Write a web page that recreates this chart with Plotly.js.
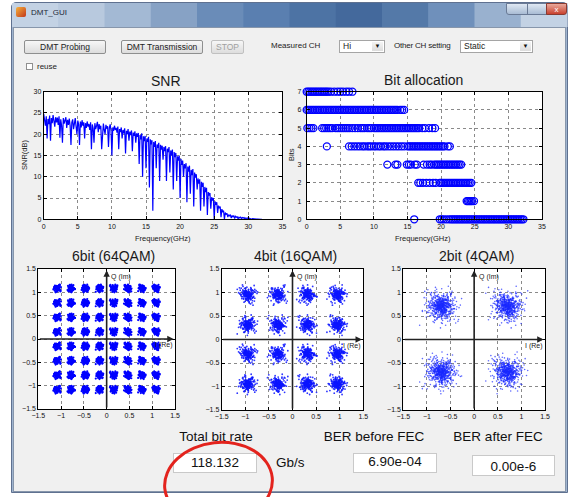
<!DOCTYPE html>
<html><head><meta charset="utf-8">
<script src="https://cdn.plot.ly/plotly-3.0.1.min.js"></script>
<style>
body{margin:0;width:574px;height:497px;overflow:hidden;background:#fff;font-family:"Liberation Sans",Arial,sans-serif;position:relative}
.abs{position:absolute;box-sizing:border-box}
.top{z-index:3}
.btn{border:1px solid #8e8f8f;border-radius:2px;background:linear-gradient(#f7f7f7,#dddddd);font-size:8.5px;color:#222;text-align:center;line-height:12px}
.lbl{font-size:8px;color:#222;white-space:nowrap}
.dd{background:#fff;border:1px solid #a5a5a5;font-size:8.5px;color:#222;line-height:11px;padding-left:3px}
.dd span{position:absolute;right:1px;top:1px;width:11px;height:9px;background:linear-gradient(#f4f4f4,#dcdcdc);font-size:6px;text-align:center;line-height:9px;color:#111}
.big{font-size:13.5px;color:#111;white-space:nowrap;text-align:center}
.box{background:#fff;border:1px solid #c9c9c9;font-size:13.5px;color:#111;text-align:center}
</style></head>
<body>
<div class="abs" style="left:11px;top:2px;width:557px;height:491px;border:1px solid #5f7190;border-radius:5px 5px 0 0;background:#9fb4cf"></div>
<div class="abs" style="left:13px;top:27px;width:553px;height:465px;background:#f0f0f0;border:1px solid #8796ab"></div>

<div class="abs btn" style="left:24px;top:40px;width:82px;height:14px">DMT Probing</div>
<div class="abs btn" style="left:121px;top:40px;width:82px;height:14px">DMT Transmission</div>
<div class="abs btn" style="left:211px;top:40px;width:33px;height:14px;color:#a0a0a0;border-color:#c0c0c0">STOP</div>
<div class="abs lbl" style="left:271px;top:41px">Measured CH</div>
<div class="abs dd" style="left:339px;top:40px;width:46px;height:13px">Hi<span>▼</span></div>
<div class="abs lbl" style="left:394px;top:41px;letter-spacing:-0.2px">Other CH setting</div>
<div class="abs dd" style="left:460px;top:40px;width:73px;height:13px">Static<span>▼</span></div>
<div class="abs" style="left:26px;top:63px;width:7px;height:7px;background:#fff;border:1px solid #8f8f8f"></div>
<div class="abs lbl" style="left:37px;top:62px;font-size:8px">reuse</div>

<div class="abs big" style="left:166px;top:429px;width:100px">Total bit rate</div>
<div class="abs box" style="left:173px;top:453px;width:84px;height:20px;line-height:18px">118.132</div>
<div class="abs big" style="left:276px;top:455px">Gb/s</div>
<div class="abs big" style="left:318px;top:429px;width:112px">BER before FEC</div>
<div class="abs box" style="left:353px;top:453px;width:84px;height:20px;line-height:16px">6.90e-04</div>
<div class="abs big" style="left:446px;top:429px;width:104px">BER after FEC</div>
<div class="abs box" style="left:472px;top:455px;width:83px;height:21px;line-height:21px">0.00e-6</div>

<div id="plot" class="abs" style="left:0;top:0;width:574px;height:497px;z-index:2"></div>

<div class="abs top" style="left:16px;top:7px;width:10px;height:10px;background:linear-gradient(135deg,#f7b23b,#c0361b);border-radius:2px"></div>
<div class="abs lbl top" style="left:31px;top:8px;font-size:8px;color:#1d2a3a">DMT_GUI</div>
<div class="abs top" style="left:506px;top:3px;width:22px;height:12px;border:1px solid #6a7a95;border-radius:0 0 0 3px;background:linear-gradient(#dfe8f3,#a9bcd4)"></div>
<div class="abs top" style="left:527px;top:3px;width:20px;height:12px;border:1px solid #6a7a95;background:linear-gradient(#dfe8f3,#a9bcd4)"></div>
<div class="abs top" style="left:546px;top:3px;width:21px;height:12px;border:1px solid #8a3a30;border-radius:0 0 3px 0;background:linear-gradient(#e9a99c,#c9412e);color:#fff;font-size:8px;text-align:center;line-height:11px">x</div>
<div class="abs top" style="left:163px;top:441px;width:111px;height:84px;border:3px solid #e3231d;border-radius:50%;transform:rotate(-6deg)"></div>

<script>
// ---------------- data ----------------
// SNR (dB) per frequency sample; sample grid: start 0 GHz, step 0.125 GHz
const snrStartGHz = 0;
const snrStepGHz = 0.125;
const snrDb = [
 24.8,23.0,22.0,24.2,19.0,23.6,22.4,24.4,18.5,23.8,22.6,24.5,23.0,21.8,24.0,22.8,
 23.9,22.2,24.2,19.2,23.5,22.0,18.0,23.8,22.5,23.2,24.0,21.5,23.4,22.2,23.7,22.0,
 17.5,22.8,23.5,21.2,22.4,23.8,21.8,20.0,23.2,22.3,17.5,23.0,21.6,23.3,22.0,22.8,
 19.0,22.6,21.5,23.0,21.8,22.4,21.0,22.8,16.5,22.3,21.4,18.0,22.6,21.2,22.0,22.9,
 20.5,22.4,21.2,22.0,16.5,21.8,22.5,21.0,20.0,22.2,21.3,21.9,17.0,21.5,22.3,20.8,
 15.0,21.6,20.8,22.0,21.0,21.5,20.4,21.8,16.5,21.2,20.5,21.6,19.0,21.0,20.2,21.4,
 15.5,20.8,20.0,21.2,18.5,20.6,19.8,20.9,16.0,20.4,19.6,20.7,18.0,20.2,19.4,20.3,
 13.0,19.8,18.8,20.2,10.0,19.5,18.4,19.6,12.0,19.0,18.2,19.4,7.5,18.8,17.6,18.6,
 2.0,18.2,17.0,18.4,12.0,17.6,16.8,18.0,9.0,17.5,16.4,17.3,14.0,17.0,16.0,17.2,
 9.0,16.6,15.8,17.0,11.0,16.2,15.0,16.4,7.0,15.8,14.6,15.6,9.0,14.8,13.8,15.0,
 5.0,14.2,12.8,13.8,10.0,13.0,12.0,13.2,4.0,12.4,11.2,12.6,6.0,11.6,10.4,11.8,
 3.0,11.0,9.8,10.6,7.0,9.6,8.4,9.4,2.0,8.8,7.6,8.6,3.0,7.6,6.4,7.4,
 1.0,6.4,5.6,6.2,2.5,5.2,4.4,5.0,0.0,4.2,3.4,4.0,1.5,3.2,2.6,3.0,
 0.5,2.4,1.8,2.0,0.0,1.6,1.2,1.4,0.5,1.1,0.8,1.0,0.3,0.9,0.6,0.8,
 0.2,0.7,0.5,0.6,0.1,0.5,0.3,0.5,0.2,0.4,0.3,0.4,0.1,0.3,0.2,0.3,
 0.1,0.25,0.15,0.2,0.0,0.15,0.1,0.1,0.0,0.08,0.05,0.05,0.0,0.02,0.0,0.0,
 0.0
];
// Bit allocation: subcarrier frequencies (GHz) loaded with each number of bits
const bitLevels = [7,6,5,4,3,2,1,0];
const bit7Freq = [0,0.25,0.5,0.75,1,1.25,1.5,1.75,2,2.25,2.5,2.75,3,3.25,3.6,4.1,4.6,5.0,5.4,5.9,6.3,6.8];
const bit6Freq = [0,0.25,0.5,0.75,1,1.25,1.5,1.75,2,2.25,2.5,2.75,3,3.25,3.5,3.75,4,4.25,4.5,4.75,5,5.25,5.5,5.75,6,6.25,6.5,6.75,7,7.25,7.5,7.75,8,8.25,8.5,8.75,9,9.25,9.5,9.75,10,10.25,10.5,10.75,11,11.25,11.5,11.75,12,12.25,12.5,12.75,13,13.25,13.5,13.9,14.2,14.5];
const bit5Freq = [0.1,0.4,0.7,1.0,2.3,2.6,2.9,3.2,3.5,3.8,4.3,4.6,4.9,5.2,5.5,5.8,6.1,6.4,6.8,7.2,7.6,8.0,8.3,8.6,9.0,9.3,9.6,10,10.25,10.5,10.75,11,11.25,11.5,11.75,12,12.25,12.5,12.75,13,13.25,13.5,13.75,14,14.25,14.5,14.75,15,15.25,15.5,15.75,16,16.25,16.5,16.75,17.2,17.6,18.2,18.7,19.1];
const bit4Freq = [3.0,6.3,6.7,7.1,7.5,7.9,8.3,8.6,9.0,9.3,9.6,10.0,10.3,10.7,11.0,11.4,11.7,12.1,12.5,12.9,13.3,13.7,14.1,14.5,15,15.25,15.5,15.75,16,16.25,16.5,16.75,17,17.25,17.5,17.75,18,18.25,18.5,18.75,19,19.25,19.5,19.75,20,20.25,20.5,21.0,21.3];
const bit3Freq = [12.0,13.2,13.5,14.9,15.2,15.5,16.1,16.4,17.4,17.9,18.3,18.6,19,19.25,19.5,19.75,20,20.25,20.5,20.75,21,21.25,21.5,21.75,22,22.25,22.5,22.75,23];
const bit2Freq = [16.6,16.9,17.3,17.8,18.3,18.8,19.2,19.8,20,20.25,20.5,20.75,21,21.25,21.5,21.75,22,22.25,22.5,22.75,23,23.25,23.5,23.75,24,24.25,24.5];
const bit1Freq = [23.8,24.0,24.2,24.4,24.6,24.9];
const bit0Freq = [16.0,19.8,20.1,20.4,20.8,21.2,21.5,21.75,22,22.25,22.5,22.75,23,23.25,23.5,23.75,24,24.25,24.5,24.75,25,25.25,25.5,25.75,26,26.25,26.5,26.75,27,27.25,27.5,27.75,28,28.25,28.5,28.75,29,29.25,29.5,29.75,30,30.25,30.5,30.75,31,31.25,31.5,31.75,32,32.25];
const bitFreqLists = [bit7Freq,bit6Freq,bit5Freq,bit4Freq,bit3Freq,bit2Freq,bit1Freq,bit0Freq];

// Constellation cluster levels (I and Q)
const qam64Levels = [-1.085,-0.775,-0.465,-0.155,0.155,0.465,0.775,1.085];
const qam16Levels = [-0.95,-0.31,0.31,0.95];
const qam4Levels = [-0.7,0.7];
// estimated received samples per cluster and spread (std, normalized units)
const qam64PerCluster = 64, qam64Spread = 0.04;
const qam16PerCluster = 192, qam16Spread = 0.075;
const qam4PerCluster = 576, qam4Spread = 0.135;
// hand-written table of noise offsets (unit std) used for the received samples
const noiseTable = [0.12,-0.85,1.43,-0.31,0.67,-1.62,0.04,0.95,-0.48,1.12,
 -1.05,0.29,-0.12,2.01,-0.73,0.51,-0.22,1.31,-1.37,0.83,
 0.18,-0.59,-2.10,0.39,1.71,-0.94,0.07,-0.41,0.62,-1.19,
 1.02,-0.06,0.34,-1.48,0.88,-0.27,1.55,-0.67,0.23,-0.99,
 0.45,-1.83,0.71,0.15,-0.36,1.24,-0.78,-0.02,1.89,-0.55,
 0.97,-1.27,0.26,-0.16,0.58,-0.89,1.36,-0.44,0.09,-1.66,
 0.79,0.33,-0.63,1.08];
const blockScale = [1.0,0.6,1.4,0.8,1.2,0.5,1.6,0.9,1.1];

// ---------------- build ----------------
function cloud(levels, perCluster, spread){
  const xs=[], ys=[]; const L=noiseTable.length; let k=0;
  for(const q of levels){ for(const ii of levels){
    for(let i=0;i<perCluster;i++){
      const blk=Math.floor(i/L), s=blockScale[blk%blockScale.length]*spread;
      const a=(i+7*k+29*blk)%L, b=(5*i+3+11*k+13*blk)%L;
      xs.push(ii+noiseTable[a]*s); ys.push(q+noiseTable[b]*s);
    }
    k++;
  }}
  return {xs,ys};
}
const W=574,H=497;
const px=x=>x/W, py=y=>1-y/H;
function axis(d0,d1,range,dtick,extra){
  return Object.assign({domain:[d0,d1],range,dtick,tick0:range[0]<0?-1.5:0,showline:true,mirror:'ticks',linecolor:'#000',linewidth:1,
    ticks:'inside',ticklen:3,tickcolor:'#000',showgrid:true,gridcolor:'#8a8a8a',griddash:'dot',gridwidth:1,zeroline:false,
    tickfont:{size:7,color:'#111',family:'Liberation Sans, Arial'},fixedrange:true,automargin:false},extra||{});
}
const traces=[];
traces.push({type:'scatter',mode:'lines',x:snrDb.map((_,i)=>snrStartGHz+i*snrStepGHz),y:snrDb,xaxis:'x',yaxis:'y',
  line:{color:'#0000ff',width:1.2},hoverinfo:'skip'});
bitLevels.forEach((b,j)=>{
  traces.push({type:'scatter',mode:'markers',x:bitFreqLists[j],y:bitFreqLists[j].map(()=>b),xaxis:'x2',yaxis:'y2',cliponaxis:false,
    marker:{symbol:'circle-open',size:7,color:'#0000ff',line:{width:1.3,color:'#0000ff'}},hoverinfo:'skip'});
});
const c64=cloud(qam64Levels,qam64PerCluster,qam64Spread);
const c16=cloud(qam16Levels,qam16PerCluster,qam16Spread);
const c4=cloud(qam4Levels,qam4PerCluster,qam4Spread);
traces.push({type:'scatter',mode:'markers',x:c64.xs,y:c64.ys,xaxis:'x3',yaxis:'y3',marker:{size:2.2,color:'#0000ff'},hoverinfo:'skip'});
traces.push({type:'scatter',mode:'markers',x:c16.xs,y:c16.ys,xaxis:'x4',yaxis:'y4',marker:{size:1.8,color:'#0a14ff',opacity:0.85},hoverinfo:'skip'});
traces.push({type:'scatter',mode:'markers',x:c4.xs,y:c4.ys,xaxis:'x5',yaxis:'y5',marker:{size:1.6,color:'#1a2aff',opacity:0.7},hoverinfo:'skip'});

// window title-bar shading (decoration drawn as paper shapes)
const titleBarShades = ['#c3d2e4','#b8c9de','#a3b9d4','#87a2c5','#6a8cb8','#5a7fb0','#4d73a4','#44699c','#5479a8','#6f90bb','#99b1cf','#c3d2e4'];
const shapes = titleBarShades.map((c,i)=>{
  const x0=12+i*555/titleBarShades.length, x1=12+(i+1)*555/titleBarShades.length+0.6;
  return {type:'rect',xref:'paper',yref:'paper',x0:px(x0),x1:px(x1),y0:py(27),y1:py(3),fillcolor:c,line:{width:0},layer:'below'};
});

const layout={width:W,height:H,margin:{l:0,r:0,t:0,b:0},paper_bgcolor:'rgba(0,0,0,0)',plot_bgcolor:'#fff',showlegend:false,shapes,
  xaxis:axis(px(43.7),px(282.4),[0,35],5),
  yaxis:axis(py(219.3),py(91.7),[0,30],5),
  xaxis2:axis(px(306.7),px(541.9),[0,35],5,{anchor:'y2'}),
  yaxis2:axis(py(219.3),py(91.7),[0,7],1,{anchor:'x2',ticklabelstandoff:3}),
  xaxis3:axis(px(38.3),px(175),[-1.5,1.5],0.5,{anchor:'y3'}),
  yaxis3:axis(py(409),py(269),[-1.5,1.5],0.5,{anchor:'x3'}),
  xaxis4:axis(px(221.7),px(363.3),[-1.5,1.5],0.5,{anchor:'y4'}),
  yaxis4:axis(py(410),py(269),[-1.5,1.5],0.5,{anchor:'x4'}),
  xaxis5:axis(px(403.3),px(545),[-1.5,1.5],0.5,{anchor:'y5'}),
  yaxis5:axis(py(410),py(269),[-1.5,1.5],0.5,{anchor:'x5'}),
  annotations:[]
};
const ann=layout.annotations;
function txt(t,x,y,size,extra){ann.push(Object.assign({text:t,x:px(x),y:py(y),xref:'paper',yref:'paper',showarrow:false,xanchor:'center',yanchor:'middle',
  font:{size:size,color:'#1a1a1a',family:'Liberation Sans, Arial'}},extra||{}));}
txt('SNR',166,81,14);
txt('Bit allocation',423,79.5,14);
txt('6bit (64QAM)',113,256,14);
txt('4bit (16QAM)',295,256,14);
txt('2bit (4QAM)',476,256,14);
txt('Frequency(GHz)',163,238,7.5);
txt('Frequency(GHz)',423,238,7.5);
txt('SNR(dB)',25,155,7.5,{textangle:-90});
txt('Bits',292,155,7.5,{textangle:-90});
[3,4,5].forEach(n=>{
  const xr='x'+n, yr='y'+n;
  ann.push({text:'',x:0,y:1.47,ax:0,ay:-1.5,xref:xr,yref:yr,axref:xr,ayref:yr,showarrow:true,arrowhead:2,arrowsize:0.8,arrowwidth:1.6,arrowcolor:'#222'});
  ann.push({text:'',x:1.47,y:0,ax:-1.5,ay:0,xref:xr,yref:yr,axref:xr,ayref:yr,showarrow:true,arrowhead:2,arrowsize:0.8,arrowwidth:1.6,arrowcolor:'#222'});
  ann.push({text:'Q (Im)',x:0.06,y:1.33,xref:xr,yref:yr,showarrow:false,xanchor:'left',yanchor:'middle',font:{size:7,color:'#222',family:'Liberation Sans, Arial'}});
  ann.push({text:'I (Re)',x:1.49,y:-0.13,xref:xr,yref:yr,showarrow:false,xanchor:'right',yanchor:'middle',font:{size:7,color:'#222',family:'Liberation Sans, Arial'}});
});
Plotly.newPlot('plot',traces,layout,{staticPlot:true,displayModeBar:false});
</script>
</body></html>
